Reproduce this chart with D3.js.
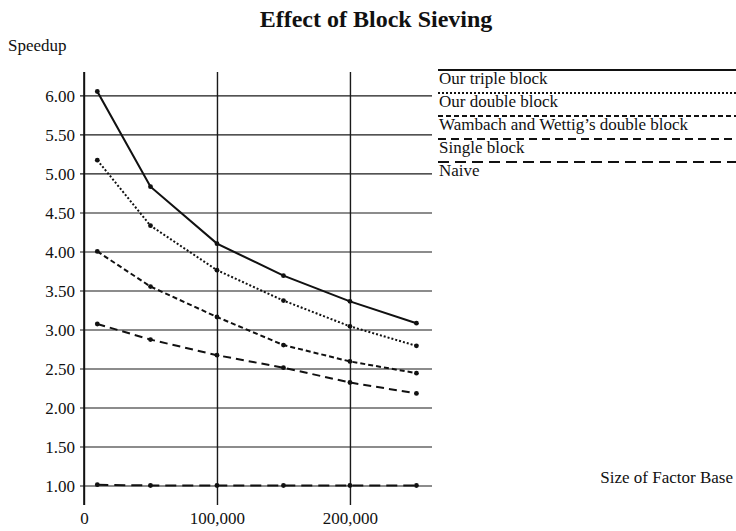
<!DOCTYPE html>
<html>
<head>
<meta charset="utf-8">
<script src="https://cdn.jsdelivr.net/npm/d3@7"></script>
<style>
  html, body { margin: 0; padding: 0; background: #fff; }
  svg text { font-family: "Liberation Serif", "Times New Roman", serif; fill: #111; }
</style>
</head>
<body>
<svg id="chart" width="736" height="531"></svg>
<script>
const factorBase = [10000, 50000, 100000, 150000, 200000, 250000];
const seriesNames = ["Our triple block", "Our double block", "Wambach and Wettig\u2019s double block", "Single block", "Naive"];
const tripleBlock = [6.05, 4.83, 4.10, 3.69, 3.36, 3.08];
const doubleBlock = [5.17, 4.33, 3.76, 3.37, 3.04, 2.79];
const wambachDouble = [4.00, 3.55, 3.16, 2.80, 2.59, 2.44];
const singleBlock = [3.07, 2.87, 2.67, 2.51, 2.32, 2.18];
const naive = [1.01, 1.00, 1.00, 1.00, 1.00, 1.00];
const yTicks = [1.00, 1.50, 2.00, 2.50, 3.00, 3.50, 4.00, 4.50, 5.00, 5.50, 6.00];
const xTicks = [0, 100000, 200000];
const xTickLabels = ["0", "100,000", "200,000"];

const allSeries = [tripleBlock, doubleBlock, wambachDouble, singleBlock, naive];
const dashes = [null, "2,2", "5,3", "8,5", "11,6"];

const svg = d3.select("#chart");
const x = d3.scaleLinear().domain([0, 261700]).range([84, 432]);
const y = d3.scaleLinear().domain([0.75, 6.30]).range([505, 72]);

// Title
svg.append("text").attr("x", 376).attr("y", 27).attr("text-anchor", "middle")
  .style("font-size", "24px").style("font-weight", "bold").text("Effect of Block Sieving");

// axis titles
svg.append("text").attr("x", 8).attr("y", 51).style("font-size", "17px").text("Speedup");
svg.append("text").attr("x", 733).attr("y", 483).attr("text-anchor", "end")
  .style("font-size", "17px").text("Size of Factor Base");

// horizontal gridlines + y axis labels
const yAxis = d3.axisLeft(y).tickValues(yTicks).tickFormat(d3.format(".2f"))
  .tickSize(-(x.range()[1] - x.range()[0])).tickPadding(9);
const gy = svg.append("g").attr("transform", `translate(${x.range()[0]},0)`).call(yAxis);
gy.select(".domain").remove();
gy.selectAll(".tick line").attr("stroke", "#1a1a1a").attr("stroke-width", 1.1).attr("x1", -4);
gy.selectAll(".tick text").style("font-size", "17px").attr("fill", "#111")
  .style("font-family", "'Liberation Serif', serif").attr("dy", "0.34em");

// vertical gridlines + x labels
const xAxis = d3.axisBottom(x).tickValues(xTicks).tickFormat((d, i) => xTickLabels[i])
  .tickSize(-(y.range()[0] - y.range()[1])).tickPadding(8);
const gx = svg.append("g").attr("transform", `translate(0,${y.range()[0]})`).call(xAxis);
gx.select(".domain").remove();
gx.selectAll(".tick line").attr("stroke", "#1a1a1a").attr("stroke-width", 1.4);
gx.selectAll(".tick text").style("font-size", "17px").attr("fill", "#111")
  .style("font-family", "'Liberation Serif', serif").attr("dy", "0.66em");

// explicit vertical axis line
svg.append("line").attr("x1", x(0)).attr("x2", x(0)).attr("y1", y.range()[0]).attr("y2", y.range()[1])
  .attr("stroke", "#111").attr("stroke-width", 1.6);

// Lines
const line = d3.line().x((d, i) => x(factorBase[i])).y(d => y(d));
allSeries.forEach((s, k) => {
  svg.append("path").datum(s).attr("d", line).attr("fill", "none")
    .attr("stroke", "#111").attr("stroke-width", k === 0 ? 2.1 : 2)
    .attr("stroke-dasharray", dashes[k]);
  svg.selectAll(null).data(s).enter().append("circle")
    .attr("cx", (d, i) => x(factorBase[i])).attr("cy", d => y(d)).attr("r", 2.4).attr("fill", "#111");
});

// Legend
const legendX0 = 438, legendX1 = 736;
seriesNames.forEach((name, k) => {
  const ly = 70 + k * 23;
  svg.append("line").attr("x1", legendX0).attr("x2", legendX1).attr("y1", ly).attr("y2", ly)
    .attr("stroke", "#111").attr("stroke-width", 1.9).attr("stroke-dasharray", dashes[k]);
  svg.append("text").attr("x", legendX0 + 1).attr("y", ly + 14).style("font-size", "17px").text(name);
});
</script>
</body>
</html>
